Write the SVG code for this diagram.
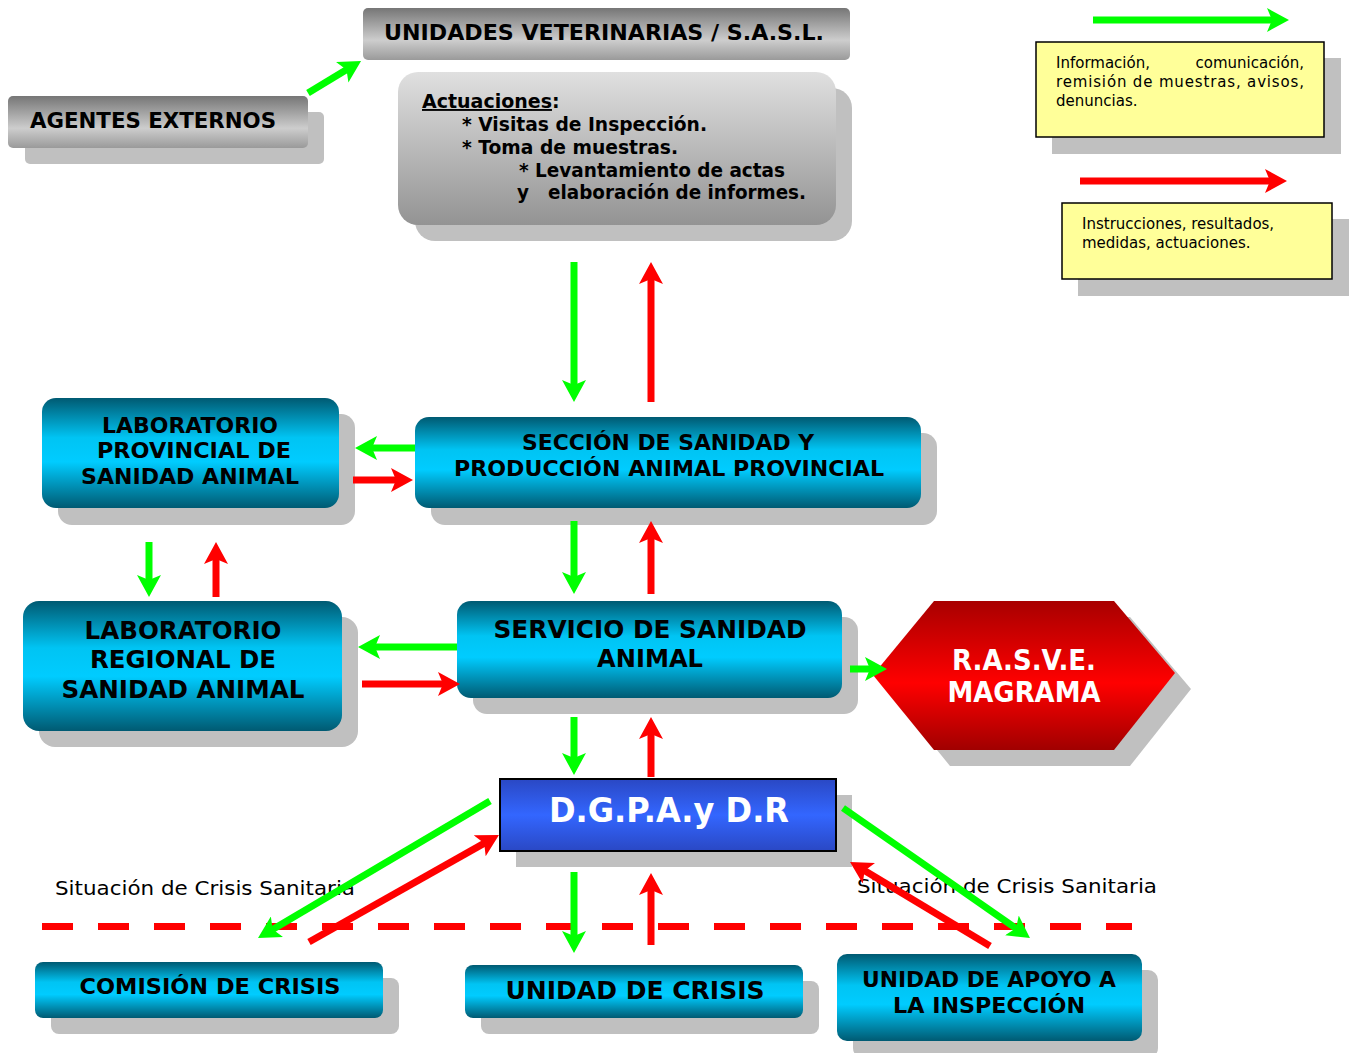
<svg xmlns="http://www.w3.org/2000/svg" width="1352" height="1053" viewBox="0 0 1352 1053">
<defs>
<linearGradient id="gBlue" x1="0" y1="0" x2="0" y2="1">
<stop offset="0" stop-color="#005a72"/><stop offset="0.36" stop-color="#00c4f3"/><stop offset="0.58" stop-color="#00ccff"/><stop offset="1" stop-color="#005a72"/>
</linearGradient>
<linearGradient id="gGray" x1="0" y1="0" x2="0" y2="1">
<stop offset="0" stop-color="#767676"/><stop offset="0.62" stop-color="#cdcdcd"/><stop offset="1" stop-color="#9a9a9a"/>
</linearGradient>
<linearGradient id="gGray2" x1="0" y1="0" x2="0" y2="1">
<stop offset="0" stop-color="#e0e0e0"/><stop offset="1" stop-color="#939393"/>
</linearGradient>
<linearGradient id="gRed" x1="0" y1="0" x2="0" y2="1">
<stop offset="0" stop-color="#a80000"/><stop offset="0.55" stop-color="#ff0000"/><stop offset="1" stop-color="#a00000"/>
</linearGradient>
<linearGradient id="gDG" x1="0" y1="0" x2="0" y2="1">
<stop offset="0" stop-color="#2a48c4"/><stop offset="0.5" stop-color="#3366ff"/><stop offset="1" stop-color="#2a48c4"/>
</linearGradient>
<marker id="ahG" markerUnits="userSpaceOnUse" markerWidth="22" markerHeight="24" viewBox="0 0 22 24" refX="14" refY="12" orient="auto">
<path d="M0,0 L22,12 L0,24 L5,12 z" fill="#00ff00"/>
</marker>
<marker id="ahR" markerUnits="userSpaceOnUse" markerWidth="22" markerHeight="24" viewBox="0 0 22 24" refX="14" refY="12" orient="auto">
<path d="M0,0 L22,12 L0,24 L5,12 z" fill="#ff0000"/>
</marker>
<style>
.sh{fill:#c0c0c0}
.blue{fill:url(#gBlue)}
.gray{fill:url(#gGray)}
.lbl{font-family:"DejaVu Sans","Liberation Sans",sans-serif;font-weight:bold;fill:#000;text-anchor:middle}
.reg{font-family:"DejaVu Sans","Liberation Sans",sans-serif;fill:#000}
.act{font-family:"DejaVu Sans","Liberation Sans",sans-serif;font-weight:bold;font-size:19px;fill:#000}
.wh{font-family:"DejaVu Sans","Liberation Sans",sans-serif;font-weight:bold;fill:#fff;text-anchor:middle}
.yl{fill:#ffff99;stroke:#000;stroke-width:1.5}
.g{stroke:#00ff00;stroke-width:7;fill:none;marker-end:url(#ahG)}
.r{stroke:#ff0000;stroke-width:7;fill:none;marker-end:url(#ahR)}
</style>
</defs>
<rect width="1352" height="1053" fill="#fff"/>

<g id="legend">
<rect class="sh" x="1052" y="58" width="289" height="96"/>
<rect class="yl" x="1036" y="42" width="288" height="95"/>
<text class="reg" font-size="15" x="1056" y="68">Información,</text>
<text class="reg" font-size="15" x="1304" y="68" text-anchor="end">comunicación,</text>
<text class="reg" font-size="15" x="1056" y="87" textLength="248" lengthAdjust="spacing">remisión de muestras, avisos,</text>
<text class="reg" font-size="15" x="1056" y="106">denuncias.</text>
<rect class="sh" x="1078" y="219" width="271" height="77"/>
<rect class="yl" x="1062" y="203" width="270" height="76"/>
<text class="reg" font-size="15" x="1082" y="229">Instrucciones, resultados,</text>
<text class="reg" font-size="15" x="1082" y="248">medidas, actuaciones.</text>
</g>

<g id="unidades-veterinarias">
<rect class="gray" x="363" y="8" width="487" height="52" rx="5"/>
<text class="lbl" font-size="21" x="604" y="40" textLength="440" lengthAdjust="spacingAndGlyphs">UNIDADES VETERINARIAS / S.A.S.L.</text>
</g>

<g id="agentes-externos">
<rect class="sh" x="25" y="112" width="299" height="52" rx="5"/>
<rect class="gray" x="8" y="96" width="300" height="52" rx="5"/>
<text class="lbl" font-size="21" x="153" y="128" textLength="246" lengthAdjust="spacingAndGlyphs">AGENTES EXTERNOS</text>
</g>

<g id="actuaciones">
<rect class="sh" x="415" y="88" width="437" height="153" rx="20"/>
<rect x="398" y="72" width="438" height="153" rx="20" fill="url(#gGray2)"/>
<text class="act" font-size="22" x="422" y="108"><tspan text-decoration="underline">Actuaciones</tspan>:</text>
<text class="act" x="462" y="131" textLength="245" lengthAdjust="spacingAndGlyphs">* Visitas de Inspección.</text>
<text class="act" x="462" y="154" textLength="216" lengthAdjust="spacingAndGlyphs">* Toma de muestras.</text>
<text class="act" x="519" y="177" textLength="266" lengthAdjust="spacingAndGlyphs">* Levantamiento de actas</text>
<text class="act" x="517" y="199" textLength="289" lengthAdjust="spacingAndGlyphs" xml:space="preserve">y   elaboración de informes.</text>
</g>

<g id="lab-provincial">
<rect class="sh" x="58" y="414" width="297" height="111" rx="14"/>
<rect class="blue" x="42" y="398" width="297" height="110" rx="14"/>
<text class="lbl" font-size="21" x="190" y="433" textLength="176" lengthAdjust="spacingAndGlyphs">LABORATORIO</text>
<text class="lbl" font-size="21" x="194" y="458" textLength="194" lengthAdjust="spacingAndGlyphs">PROVINCIAL DE</text>
<text class="lbl" font-size="21" x="190" y="484" textLength="218" lengthAdjust="spacingAndGlyphs">SANIDAD ANIMAL</text>
</g>

<g id="seccion">
<rect class="sh" x="431" y="433" width="506" height="92" rx="14"/>
<rect class="blue" x="415" y="417" width="506" height="91" rx="14"/>
<text class="lbl" font-size="21" x="668" y="450" textLength="292" lengthAdjust="spacingAndGlyphs">SECCIÓN DE SANIDAD Y</text>
<text class="lbl" font-size="21" x="669" y="476" textLength="430" lengthAdjust="spacingAndGlyphs">PRODUCCIÓN ANIMAL PROVINCIAL</text>
</g>

<g id="lab-regional">
<rect class="sh" x="39" y="617" width="319" height="130" rx="16"/>
<rect class="blue" x="23" y="601" width="319" height="130" rx="16"/>
<text class="lbl" font-size="24" x="183" y="639" textLength="197" lengthAdjust="spacingAndGlyphs">LABORATORIO</text>
<text class="lbl" font-size="24" x="183" y="668" textLength="186" lengthAdjust="spacingAndGlyphs">REGIONAL DE</text>
<text class="lbl" font-size="24" x="183" y="698" textLength="243" lengthAdjust="spacingAndGlyphs">SANIDAD ANIMAL</text>
</g>

<g id="servicio">
<rect class="sh" x="473" y="617" width="385" height="97" rx="14"/>
<rect class="blue" x="457" y="601" width="385" height="97" rx="14"/>
<text class="lbl" font-size="24" x="650" y="638" textLength="313" lengthAdjust="spacingAndGlyphs">SERVICIO DE SANIDAD</text>
<text class="lbl" font-size="24" x="650" y="667" textLength="106" lengthAdjust="spacingAndGlyphs">ANIMAL</text>
</g>

<g id="rasve">
<polygon class="sh" points="889,691 950,617 1130,617 1191,689 1130,766 950,766"/>
<polygon points="873,675 934,601 1114,601 1175,673 1114,750 934,750" fill="url(#gRed)"/>
<text class="wh" font-size="28" x="1024" y="670" textLength="144" lengthAdjust="spacingAndGlyphs">R.A.S.V.E.</text>
<text class="wh" font-size="28" x="1024" y="702" textLength="153" lengthAdjust="spacingAndGlyphs">MAGRAMA</text>
</g>

<g id="dgpa">
<rect class="sh" x="516" y="795" width="336" height="72"/>
<rect x="500" y="779" width="336" height="72" fill="url(#gDG)" stroke="#000" stroke-width="2"/>
<text class="wh" font-size="33" x="669" y="822" textLength="240" lengthAdjust="spacingAndGlyphs">D.G.P.A.y D.R</text>
</g>

<g id="crisis-line">
<line x1="42" y1="926.5" x2="1132" y2="926.5" stroke="#ff0000" stroke-width="7" stroke-dasharray="31 25"/>
<text class="reg" font-size="20" x="55" y="895" textLength="300" lengthAdjust="spacingAndGlyphs">Situación de Crisis Sanitaria</text>
<text class="reg" font-size="20" x="857" y="893" textLength="300" lengthAdjust="spacingAndGlyphs">Situación de Crisis Sanitaria</text>
</g>

<g id="comision-crisis">
<rect class="sh" x="51" y="978" width="348" height="56" rx="8"/>
<rect class="blue" x="35" y="962" width="348" height="56" rx="8"/>
<text class="lbl" font-size="21" x="210" y="994" textLength="261" lengthAdjust="spacingAndGlyphs">COMISIÓN DE CRISIS</text>
</g>

<g id="unidad-crisis">
<rect class="sh" x="481" y="981" width="338" height="53" rx="8"/>
<rect class="blue" x="465" y="965" width="338" height="53" rx="8"/>
<text class="lbl" font-size="24" x="635" y="999" textLength="259" lengthAdjust="spacingAndGlyphs">UNIDAD DE CRISIS</text>
</g>

<g id="unidad-apoyo">
<rect class="sh" x="853" y="970" width="305" height="88" rx="10"/>
<rect class="blue" x="837" y="954" width="305" height="87" rx="10"/>
<text class="lbl" font-size="21" x="989" y="987" textLength="254" lengthAdjust="spacingAndGlyphs">UNIDAD DE APOYO A</text>
<text class="lbl" font-size="21" x="989" y="1013" textLength="192" lengthAdjust="spacingAndGlyphs">LA INSPECCIÓN</text>
</g>

<g id="connectors">
<line class="g" x1="1093" y1="20" x2="1281" y2="20"/>
<line class="r" x1="1080" y1="181" x2="1279" y2="181"/>
<line class="g" x1="308" y1="93" x2="354.2" y2="65.1"/>
<line class="g" x1="574" y1="262" x2="574" y2="394"/>
<line class="r" x1="651" y1="402" x2="651" y2="270"/>
<line class="g" x1="415" y1="448" x2="363" y2="448"/>
<line class="r" x1="353" y1="480" x2="405" y2="480"/>
<line class="g" x1="149" y1="542" x2="149" y2="589"/>
<line class="r" x1="216" y1="597" x2="216" y2="550"/>
<line class="g" x1="574" y1="521" x2="574" y2="586"/>
<line class="r" x1="651" y1="594" x2="651" y2="529"/>
<line class="g" x1="457" y1="647" x2="366" y2="647"/>
<line class="r" x1="362" y1="684" x2="452" y2="684"/>
<line class="g" x1="850" y1="669" x2="879" y2="669"/>
<line class="g" x1="574" y1="717" x2="574" y2="767"/>
<line class="r" x1="651" y1="777" x2="651" y2="725"/>
<line class="g" x1="574" y1="872" x2="574" y2="945"/>
<line class="r" x1="651" y1="945" x2="651" y2="881"/>
<line class="g" x1="490" y1="801" x2="264.9" y2="933.9"/>
<line class="r" x1="309" y1="942" x2="492" y2="838.9"/>
<line class="g" x1="843" y1="808" x2="1023.4" y2="933.4"/>
<line class="r" x1="990" y1="946" x2="856.9" y2="866.1"/>
</g>
</svg>
